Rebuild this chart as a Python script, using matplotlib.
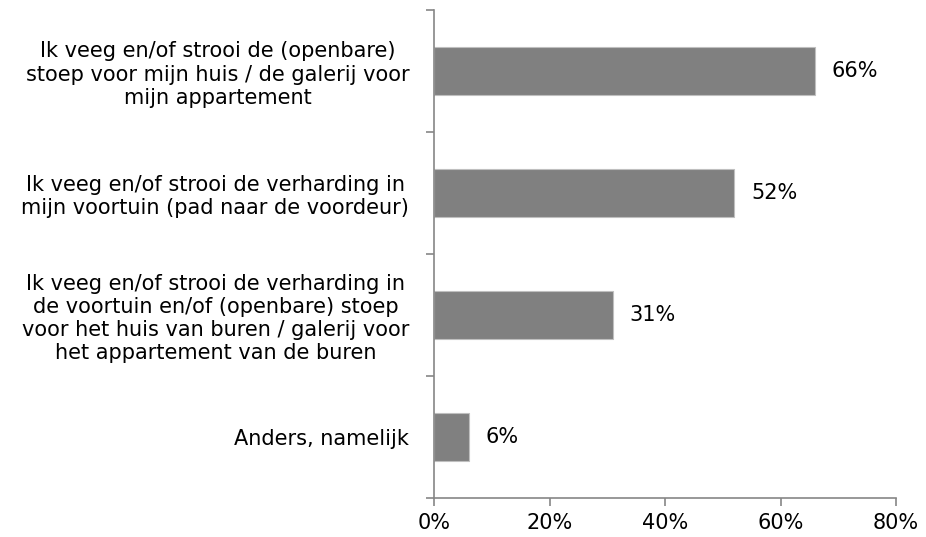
import matplotlib
matplotlib.use("Agg")
import matplotlib.pyplot as plt

# data
categories = [
	"Ik veeg en/of strooi de (openbare)\nstoep voor mijn huis / de galerij voor\nmijn appartement",
	"Ik veeg en/of strooi de verharding in\nmijn voortuin (pad naar de voordeur)",
	"Ik veeg en/of strooi de verharding in\nde voortuin en/of (openbare) stoep\nvoor het huis van buren / galerij voor\nhet appartement van de buren",
	"Anders, namelijk",
]
values = [66, 52, 31, 6]
xticks = [0, 20, 40, 60, 80]

axisGrey = "#868686"
barGrey = "#808080"
fontSize = 15

plt.rcParams["font.family"] = ["DejaVu Sans"]

fig = plt.figure(figsize=(9.26, 5.37), dpi=100)
ax = fig.add_axes([0.469, 0.0726, 0.4986, 0.9088])

positions = list(range(len(categories)))
ax.barh(positions, values, height=0.4, color=barGrey, edgecolor="#bfbfbf", linewidth=0.8)

for pos, val in zip(positions, values):
	ax.annotate(f"{val}%", xy=(val, pos), xytext=(12, 0), textcoords="offset points",
		va="center", ha="left", fontsize=fontSize, color="black")

ax.set_xlim(0, 80)
ax.set_ylim(len(categories) - 0.5, -0.5)

ax.set_xticks(xticks)
ax.set_xticklabels([f"{t}%" for t in xticks], fontsize=fontSize)

#category labels on minor ticks, separators on major ticks
ax.set_yticks([p + 0.5 for p in [-1] + positions])
ax.set_yticklabels([])
ax.set_yticks(positions, minor=True)
ax.set_yticklabels(categories, minor=True, fontsize=fontSize)
for lbl in ax.get_yticklabels(minor=True):
	lbl.set_multialignment("center")
	lbl.set_linespacing(1.2)

ax.tick_params(axis="y", which="major", direction="out", length=6, color=axisGrey, width=1.2)
ax.tick_params(axis="y", which="minor", length=0, pad=18)
ax.tick_params(axis="x", which="major", direction="out", length=6, color=axisGrey, width=1.2, pad=5)

for side in ["top", "right"]:
	ax.spines[side].set_visible(False)
for side in ["left", "bottom"]:
	ax.spines[side].set_color(axisGrey)
	ax.spines[side].set_linewidth(1.2)

fig.savefig("out.png", dpi=100)
